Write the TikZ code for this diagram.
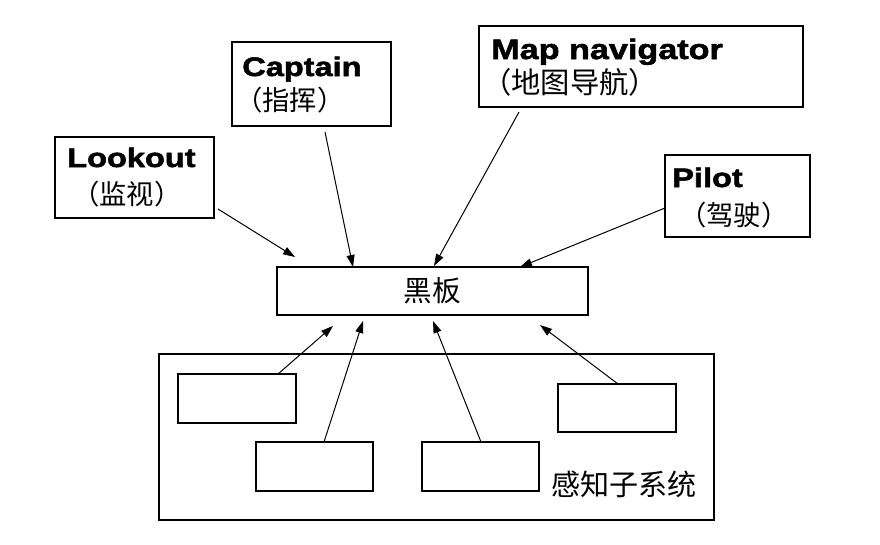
\documentclass[tikz,border=0pt]{standalone}
\usepackage{fontspec}
\usetikzlibrary{arrows.meta}
\newfontfamily\engfont[FakeStretch=1.22,FakeBold=2]{Liberation Sans Bold}
\newfontfamily\cjk{Noto Sans CJK SC}
\begin{document}
\begin{tikzpicture}[x=0.75pt,y=-0.75pt,
  box/.style={draw,line width=1pt,rectangle,inner sep=0pt},
  eng/.style={anchor=base west,inner sep=0pt,font=\engfont\fontsize{20}{20}\selectfont},
  zh/.style={anchor=base west,inner sep=0pt,font=\cjk\fontsize{20.5}{20.5}\selectfont},
  arr/.style={line width=0.75pt,-{Triangle[length=9pt,width=6pt]}}]
\useasboundingbox[fill=white] (0,0) rectangle (880,544);
% boxes
\node[box,minimum width=119.25pt,minimum height=60.75pt] (look) at (134.5,177.5) {};
\node[box,minimum width=119.25pt,minimum height=63pt] (capt) at (311.5,84) {};
\node[box,minimum width=243pt,minimum height=60.75pt] (map) at (641,66.5) {};
\node[box,minimum width=108.75pt,minimum height=61.5pt] (pilot) at (737.5,196) {};
\node[box,minimum width=233.25pt,minimum height=36pt,font=\cjk\fontsize{21.5}{21.5}\selectfont] (board) at (432.5,291) {黑板};
\node[box,minimum width=416.25pt,minimum height=124.5pt] (sense) at (436.5,437) {};
\node[box,minimum width=88.5pt,minimum height=36.75pt] (sa) at (237,398.5) {};
\node[box,minimum width=87.75pt,minimum height=36.75pt] (sb) at (314.5,466.5) {};
\node[box,minimum width=87.75pt,minimum height=36.75pt] (sc) at (480.5,466.5) {};
\node[box,minimum width=88.5pt,minimum height=36pt] (sd) at (617,408) {};
% texts
\node[eng] (lookt) at (67,167) {Lookout};
\node[zh] (lookz) at (72,204) {（监视）};
\node[eng] (captt) at (242,76) {Captain};
\node[zh] (captz) at (235,110) {（指挥）};
\node[eng,font=\engfont\fontsize{21}{21}\selectfont] (mapt) at (491,59) {Map navigator};
\node[zh,font=\cjk\fontsize{22}{22}\selectfont] (mapz) at (482,93) {（地图导航）};
\node[eng] (pilott) at (672,187) {Pilot};
\node[zh] (pilotz) at (679,225) {（驾驶）};
\node[zh,font=\cjk\fontsize{21.8}{21.8}\selectfont] (sensel) at (551,495) {感知子系统};
% connector end points
\coordinate (l0) at (218,209); \coordinate (l1) at (295,257);
\coordinate (c0) at (325,132); \coordinate (c1) at (353,267);
\coordinate (m0) at (519,112); \coordinate (m1) at (434,266);
\coordinate (p0) at (665,208); \coordinate (p1) at (520,267);
\coordinate (a0) at (278,374); \coordinate (a1) at (333,326);
\coordinate (b0) at (324,442); \coordinate (b1) at (363,321);
\coordinate (e0) at (481,442); \coordinate (e1) at (433,321);
\coordinate (d0) at (618,384); \coordinate (d1) at (540,325);
\draw[arr] (l0) -- (l1);
\draw[arr] (c0) -- (c1);
\draw[arr] (m0) -- (m1);
\draw[arr] (p0) -- (p1);
\draw[arr] (a0) -- (a1);
\draw[arr] (b0) -- (b1);
\draw[arr] (e0) -- (e1);
\draw[arr] (d0) -- (d1);
\end{tikzpicture}
\end{document}
